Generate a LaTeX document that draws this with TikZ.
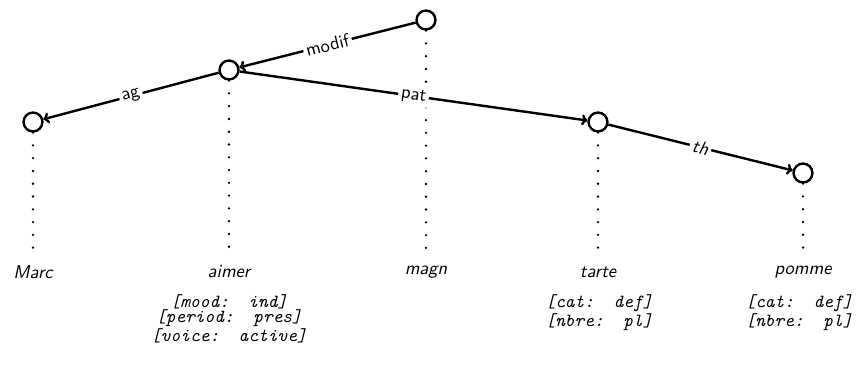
\documentclass[tikz,border=0pt]{standalone}
\usepackage{fontspec}
\usetikzlibrary{arrows.meta}
\begin{document}
\begin{tikzpicture}[x=0.54pt,y=-0.54pt,
  tok/.style={circle,draw,line width=1.3pt,minimum size=10.2pt,inner sep=0pt,fill=white},
  dep/.style={-{To[length=3.2pt,width=6pt]},line width=1.3pt},
  rel/.style={sloped,fill=white,inner sep=1.5pt,font=\sffamily},
  guide/.style={line width=1.4pt,line cap=round,dash pattern=on 0pt off 6.9pt},
  word/.style={font=\sffamily\itshape},
  feats/.style={align=center,inner sep=0pt,font=\ttfamily\itshape\fontsize{10}{8.2}\selectfont}]
\useasboundingbox (0,0) rectangle (863,369);

% token nodes
\node[tok] (n1) at (33,122) {};
\node[tok] (n2) at (229,70) {};
\node[tok] (n3) at (426,20) {};
\node[tok] (n4) at (598,122) {};
\node[tok] (n5) at (803,173) {};

% feet of the projection lines
\coordinate (f1) at (33,250);
\coordinate (f2) at (229,250);
\coordinate (f3) at (426,250);
\coordinate (f4) at (598,250);
\coordinate (f5) at (803,250);

% projection lines
\foreach \i in {1,...,5} \draw[guide] (n\i.south) -- (f\i);

% words
\node[word] (w1) at (33,272) {Marc};
\node[word] (w2) at (229,272) {aimer};
\node[word] (w3) at (426,272) {magn};
\node[word] (w4) at (598,272) {tarte};
\node[word] (w5) at (803,272) {pomme};

% feature structures
\node[feats,anchor=north] (a2) at (229,294) {{[}mood:~~ind{]}\\{[}period:~~pres{]}\\{[}voice:~~active{]}};
\node[feats,anchor=north] (a4) at (599,294) {{[}cat:~~def{]}\\{[}nbre:~~pl{]}};
\node[feats,anchor=north] (a5) at (799,294) {{[}cat:~~def{]}\\{[}nbre:~~pl{]}};

% dependencies
\draw[dep] (n3) -- node[rel] {modif} (n2);
\draw[dep] (n2) -- node[rel] {ag} (n1);
\draw[dep] (n2) -- node[rel] {pat} (n4);
\draw[dep] (n4) -- node[rel,font=\sffamily\itshape] {th} (n5);
\end{tikzpicture}
\end{document}
